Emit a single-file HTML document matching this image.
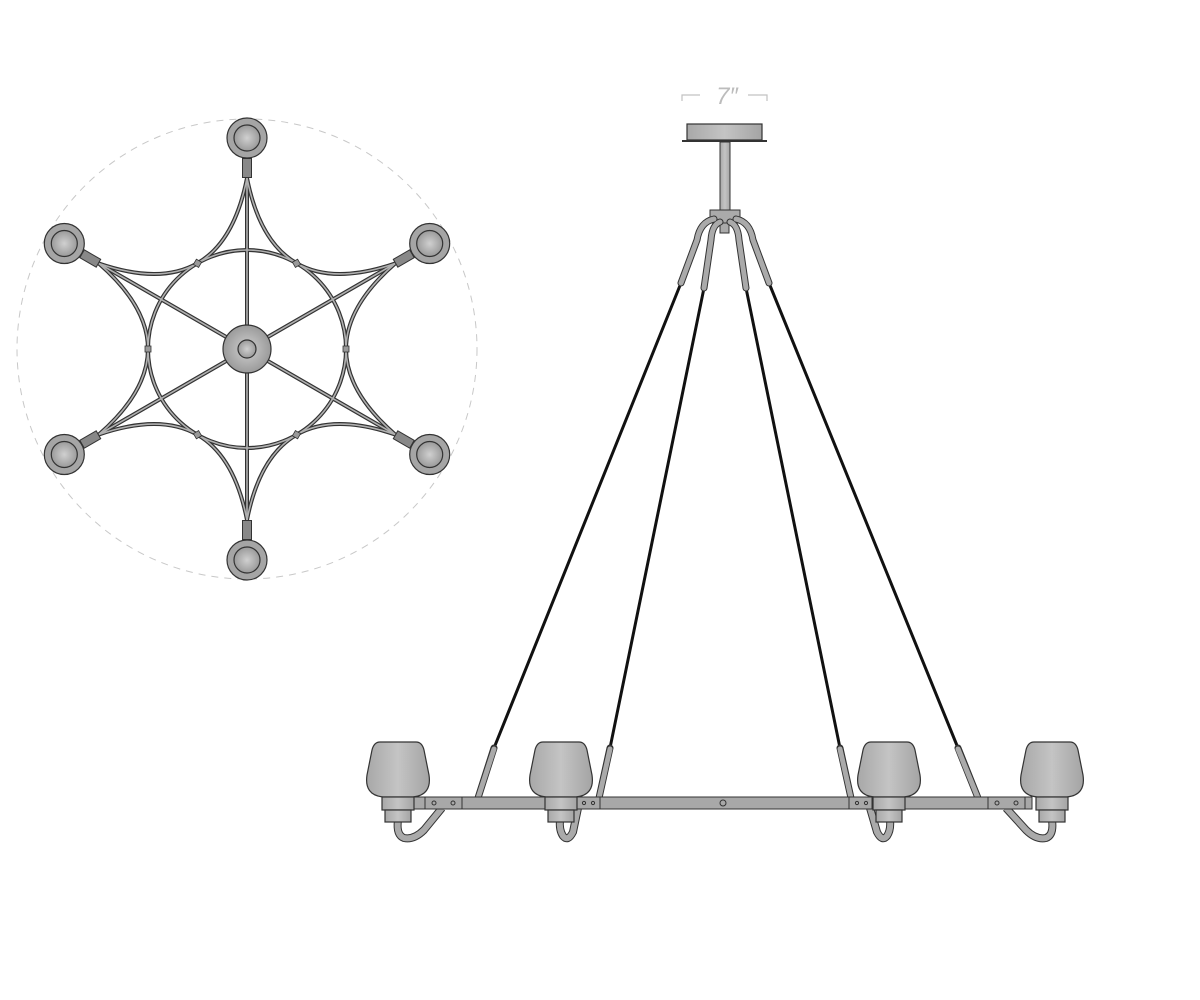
<!DOCTYPE html>
<html><head><meta charset="utf-8"><style>html,body{margin:0;padding:0;background:#fff}svg{display:block}</style></head>
<body>
<svg width="1200" height="1000" viewBox="0 0 1200 1000" xmlns="http://www.w3.org/2000/svg">
<defs>
<radialGradient id="lg" cx="50%" cy="50%" r="50%"><stop offset="0" stop-color="#d0d0d0"/><stop offset="1" stop-color="#9a9a9a"/></radialGradient>
<linearGradient id="sg" x1="0" x2="1" y1="0" y2="0"><stop offset="0" stop-color="#a8a8a8"/><stop offset="0.5" stop-color="#c4c4c4"/><stop offset="1" stop-color="#a4a4a4"/></linearGradient>
</defs>
<!-- TOP VIEW -->
<circle cx="247" cy="349" r="230" fill="none" stroke="#c8c8c8" stroke-width="1" stroke-dasharray="7,6"/>
<g fill="none" stroke-linecap="round">
<g stroke="#333" stroke-width="4">
<circle cx="247" cy="349" r="99"/>
<path d="M247,178 Q222,305.7 98.9,263.5 M247,178 Q272,305.7 395.1,263.5 M395.1,263.5 Q297,349 395.1,434.5 M395.1,434.5 Q272,392.3 247,520 M247,520 Q222,392.3 98.9,434.5 M98.9,434.5 Q197,349 98.9,263.5"/>
<path d="M247,349 L247,178 M247,349 L395.1,263.5 M247,349 L395.1,434.5 M247,349 L247,520 M247,349 L98.9,434.5 M247,349 L98.9,263.5"/>
</g>
<g stroke="#b0b0b0" stroke-width="1.6">
<circle cx="247" cy="349" r="99"/>
<path d="M247,178 Q222,305.7 98.9,263.5 M247,178 Q272,305.7 395.1,263.5 M395.1,263.5 Q297,349 395.1,434.5 M395.1,434.5 Q272,392.3 247,520 M247,520 Q222,392.3 98.9,434.5 M98.9,434.5 Q197,349 98.9,263.5"/>
<path d="M247,349 L247,178 M247,349 L395.1,263.5 M247,349 L395.1,434.5 M247,349 L247,520 M247,349 L98.9,434.5 M247,349 L98.9,263.5"/>
</g>
</g>
<g fill="#999" stroke="#333" stroke-width="0.8">
<rect x="194.5" y="260.3" width="6" height="6" transform="rotate(30 197.5 263.3)"/>
<rect x="293.5" y="260.3" width="6" height="6" transform="rotate(-30 296.5 263.3)"/>
<rect x="343" y="346" width="6" height="6"/>
<rect x="293.5" y="431.7" width="6" height="6" transform="rotate(30 296.5 434.7)"/>
<rect x="194.5" y="431.7" width="6" height="6" transform="rotate(-30 197.5 434.7)"/>
<rect x="145" y="346" width="6" height="6"/>
</g>
<!-- arm blocks -->
<g stroke="#333" stroke-width="10" stroke-linecap="butt">
<path d="M247,158 L247,178 M412.4,253.5 L395.1,263.5 M412.4,444.5 L395.1,434.5 M247,540 L247,520 M81.6,444.5 L98.9,434.5 M81.6,253.5 L98.9,263.5"/>
</g>
<g stroke="#888" stroke-width="8" stroke-linecap="butt">
<path d="M247,159 L247,177 M411.5,254 L396,263 M411.5,444 L396,435 M247,539 L247,521 M82.5,444 L98,435 M82.5,254 L98,263"/>
</g>
<g fill="url(#lg)" stroke="#333" stroke-width="1.2">
<circle cx="247" cy="349" r="24"/>
<circle cx="247" cy="349" r="9"/>
</g>
<g stroke="#333" stroke-width="1.2">
<g fill="#a5a5a5">
<circle cx="247" cy="138" r="20"/><circle cx="429.7" cy="243.5" r="20"/><circle cx="429.7" cy="454.5" r="20"/>
<circle cx="247" cy="560" r="20"/><circle cx="64.3" cy="454.5" r="20"/><circle cx="64.3" cy="243.5" r="20"/>
</g>
<g fill="url(#lg)">
<circle cx="247" cy="138" r="13"/><circle cx="429.7" cy="243.5" r="13"/><circle cx="429.7" cy="454.5" r="13"/>
<circle cx="247" cy="560" r="13"/><circle cx="64.3" cy="454.5" r="13"/><circle cx="64.3" cy="243.5" r="13"/>
</g>
</g>

<!-- SIDE VIEW -->
<g stroke="#c2c2c2" stroke-width="1.2" fill="none">
<path d="M682,101 L682,95 L700,95 M748,95 L767,95 L767,101"/>
</g>
<text x="727" y="104" font-family="Liberation Sans, sans-serif" font-size="24" font-style="italic" fill="#bcbcbc" text-anchor="middle">7″</text>
<rect x="687" y="124" width="75" height="16" fill="url(#sg)" stroke="#333" stroke-width="1.2"/>
<rect x="682" y="140" width="85" height="2" fill="#333"/>
<rect x="720" y="142" width="10" height="69" fill="url(#sg)" stroke="#333" stroke-width="1"/>
<rect x="720" y="222" width="9" height="11" fill="#aaa" stroke="#333" stroke-width="1"/>
<rect x="710" y="210" width="30" height="13" fill="#aaa" stroke="#333" stroke-width="1"/>
<!-- cables -->
<g stroke="#111" stroke-width="3">
<path d="M681,283 L494,748 M704,288 L610,748 M746,288 L840,748 M769,283 L958,748"/>
</g>
<g fill="none" stroke-linecap="round">
<g stroke="#333" stroke-width="7">
<path d="M714,219 Q700,222 697,240 L681,283 M720,222 Q712,225 711,240 L704,288 M736,219 Q750,222 753,240 L769,283 M730,222 Q738,225 739,240 L746,288"/>
<path d="M494,748 L478,798 M610,748 L599,798 M840,748 L851,798 M958,748 L978,798"/>
</g>
<g stroke="#aaa" stroke-width="5">
<path d="M714,219 Q700,222 697,240 L681,283 M720,222 Q712,225 711,240 L704,288 M736,219 Q750,222 753,240 L769,283 M730,222 Q738,225 739,240 L746,288"/>
<path d="M494,749 L478,798 M610,749 L599,798 M840,749 L851,798 M958,749 L978,798"/>
</g>
</g>
<!-- U arms -->
<g fill="none">
<g stroke="#333" stroke-width="8">
<path d="M442,808 L424,830 Q414,840 404,838 Q396,835 398,820"/>
<path d="M578,808 L573,832 Q568,842 563,836 Q559,830 560,820"/>
<path d="M870,808 L877,832 Q882,842 887,836 Q891,830 890,820"/>
<path d="M1006,808 L1026,830 Q1036,840 1046,838 Q1054,835 1052,820"/>
</g>
<g stroke="#aaa" stroke-width="6">
<path d="M442,808 L424,830 Q414,840 404,838 Q396,835 398,820"/>
<path d="M578,808 L573,832 Q568,842 563,836 Q559,830 560,820"/>
<path d="M870,808 L877,832 Q882,842 887,836 Q891,830 890,820"/>
<path d="M1006,808 L1026,830 Q1036,840 1046,838 Q1054,835 1052,820"/>
</g>
</g>
<!-- bar -->
<rect x="412" y="797" width="620" height="12" fill="#a8a8a8" stroke="#333" stroke-width="1"/>
<g fill="none" stroke="#333" stroke-width="1">
<path d="M425,797 V809 M462,797 V809 M577,797 V809 M600,797 V809 M849,797 V809 M872,797 V809 M988,797 V809 M1025,797 V809"/>
<circle cx="434" cy="803" r="2"/><circle cx="453" cy="803" r="2"/>
<circle cx="584" cy="803" r="1.6"/><circle cx="593" cy="803" r="1.6"/>
<circle cx="857" cy="803" r="1.6"/><circle cx="866" cy="803" r="1.6"/>
<circle cx="997" cy="803" r="2"/><circle cx="1016" cy="803" r="2"/>
<circle cx="723" cy="803" r="3"/>
</g>
<!-- shades -->
<g stroke="#333" stroke-width="1.2" fill="url(#sg)">
<g transform="translate(398,0)">
<path d="M-18,742 L18,742 Q24,742 26,750 L31,775 Q34,795 15,797 L-15,797 Q-34,795 -31,775 L-26,750 Q-24,742 -18,742 Z"/>
<rect x="-16" y="797" width="32" height="13"/><rect x="-13" y="810" width="26" height="12"/>
</g>
<g transform="translate(561,0)">
<path d="M-18,742 L18,742 Q24,742 26,750 L31,775 Q34,795 15,797 L-15,797 Q-34,795 -31,775 L-26,750 Q-24,742 -18,742 Z"/>
<rect x="-16" y="797" width="32" height="13"/><rect x="-13" y="810" width="26" height="12"/>
</g>
<g transform="translate(889,0)">
<path d="M-18,742 L18,742 Q24,742 26,750 L31,775 Q34,795 15,797 L-15,797 Q-34,795 -31,775 L-26,750 Q-24,742 -18,742 Z"/>
<rect x="-16" y="797" width="32" height="13"/><rect x="-13" y="810" width="26" height="12"/>
</g>
<g transform="translate(1052,0)">
<path d="M-18,742 L18,742 Q24,742 26,750 L31,775 Q34,795 15,797 L-15,797 Q-34,795 -31,775 L-26,750 Q-24,742 -18,742 Z"/>
<rect x="-16" y="797" width="32" height="13"/><rect x="-13" y="810" width="26" height="12"/>
</g>
</g>
</svg>
</body></html>
